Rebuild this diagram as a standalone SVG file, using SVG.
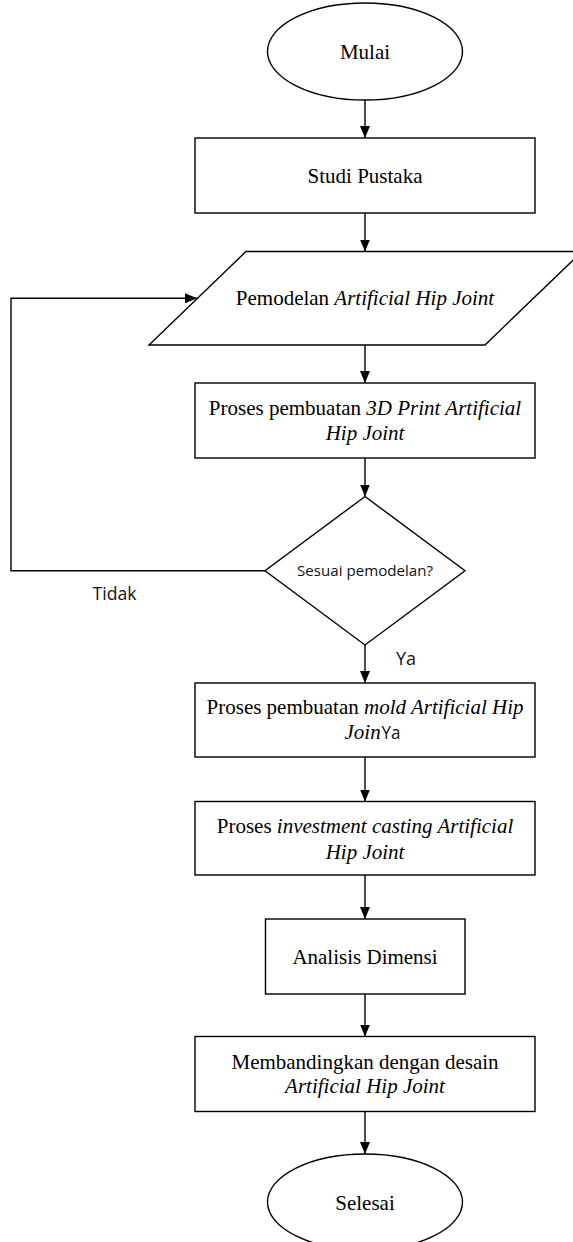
<svg xmlns="http://www.w3.org/2000/svg" width="573" height="1242" viewBox="0 0 573 1242">
<defs>
<style>
.shape{fill:#fff;stroke:#000;stroke-width:1.4}
.conn{fill:none;stroke:#000;stroke-width:1.4}
.serif{font-family:"Liberation Serif","Times New Roman",serif;font-size:21px;fill:#000}
.it{font-style:italic}
.sans{font-family:"Open Sans","Noto Sans","DejaVu Sans",sans-serif;fill:#111}
</style>
<marker id="arrow" markerUnits="userSpaceOnUse" markerWidth="12" markerHeight="10" refX="12" refY="5" orient="auto">
<path d="M0,0 L12,5 L0,10 z" fill="#000"/>
</marker>
</defs>
<rect width="573" height="1242" fill="#fff"/>
<g id="connectors">
<line class="conn" x1="365" y1="100" x2="365" y2="138" marker-end="url(#arrow)"/>
<line class="conn" x1="365" y1="213" x2="365" y2="251.5" marker-end="url(#arrow)"/>
<line class="conn" x1="365" y1="345" x2="365" y2="383" marker-end="url(#arrow)"/>
<line class="conn" x1="365" y1="458" x2="365" y2="496.5" marker-end="url(#arrow)"/>
<line class="conn" x1="365" y1="645" x2="365" y2="683" marker-end="url(#arrow)"/>
<line class="conn" x1="365" y1="757" x2="365" y2="801.5" marker-end="url(#arrow)"/>
<line class="conn" x1="365" y1="875" x2="365" y2="919" marker-end="url(#arrow)"/>
<line class="conn" x1="365" y1="994" x2="365" y2="1036.5" marker-end="url(#arrow)"/>
<line class="conn" x1="365" y1="1111.5" x2="365" y2="1154" marker-end="url(#arrow)"/>
<polyline class="conn" points="265,570.7 11,570.7 11,298.3 197,298.3" marker-end="url(#arrow)"/>
<text class="sans" x="92.5" y="600" font-size="17.5" textLength="44" lengthAdjust="spacingAndGlyphs">Tidak</text>
<text class="sans" x="396" y="665" font-size="17.5" textLength="20" lengthAdjust="spacingAndGlyphs">Ya</text>
</g>
<g id="mulai">
<ellipse class="shape" cx="365" cy="51.5" rx="97.5" ry="48.5"/>
<text class="serif" x="365" y="59" text-anchor="middle">Mulai</text>
</g>
<g id="studi-pustaka">
<rect class="shape" x="195" y="138" width="340" height="75"/>
<text class="serif" x="365" y="183" text-anchor="middle">Studi Pustaka</text>
</g>
<g id="pemodelan">
<polygon class="shape" points="246,251.5 582,251.5 485,345 149,345"/>
<text class="serif" x="365" y="305" text-anchor="middle">Pemodelan <tspan class="it">Artificial Hip Joint</tspan></text>
</g>
<g id="print3d">
<rect class="shape" x="195" y="383" width="340" height="75"/>
<text class="serif" x="365" y="415" text-anchor="middle">Proses pembuatan <tspan class="it">3D Print Artificial</tspan></text>
<text class="serif it" x="365" y="440" text-anchor="middle">Hip Joint</text>
</g>
<g id="decision">
<polygon class="shape" points="365,496.5 465,570.7 365,645 265,570.7"/>
<text class="sans" x="365" y="576" font-size="15" text-anchor="middle" textLength="136" lengthAdjust="spacingAndGlyphs">Sesuai pemodelan?</text>
</g>
<g id="mold">
<rect class="shape" x="195" y="683" width="340" height="74"/>
<text class="serif" x="365" y="714" text-anchor="middle">Proses pembuatan <tspan class="it">mold Artificial Hip</tspan></text>
<text class="serif it" x="344.5" y="739">Join</text>
<text class="sans" x="381.5" y="739" font-size="17.5" textLength="19" lengthAdjust="spacingAndGlyphs">Ya</text>
</g>
<g id="casting">
<rect class="shape" x="195" y="801.5" width="340" height="73.5"/>
<text class="serif" x="365" y="832.5" text-anchor="middle">Proses <tspan class="it">investment casting Artificial</tspan></text>
<text class="serif it" x="365" y="858.5" text-anchor="middle">Hip Joint</text>
</g>
<g id="analisis">
<rect class="shape" x="265.5" y="919" width="199.5" height="75"/>
<text class="serif" x="365" y="963.5" text-anchor="middle">Analisis Dimensi</text>
</g>
<g id="membandingkan">
<rect class="shape" x="195" y="1036.5" width="340" height="75"/>
<text class="serif" x="365" y="1068.5" text-anchor="middle">Membandingkan dengan desain</text>
<text class="serif it" x="365" y="1093" text-anchor="middle">Artificial Hip Joint</text>
</g>
<g id="selesai">
<ellipse class="shape" cx="365" cy="1202" rx="97.5" ry="48"/>
<text class="serif" x="365" y="1209.5" text-anchor="middle">Selesai</text>
</g>
</svg>
